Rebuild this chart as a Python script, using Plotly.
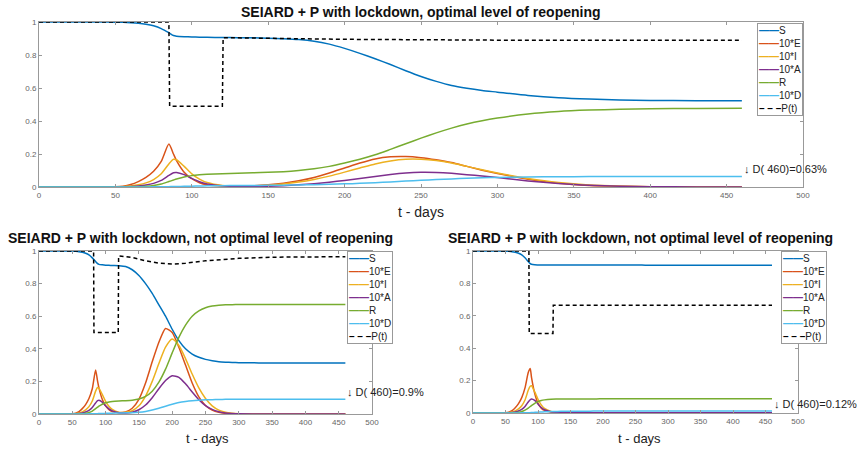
import plotly.graph_objects as go

# ---------------- data ----------------
T = [0, 40, 50, 55, 60, 65, 70, 75, 80, 85, 88, 90, 95, 100, 105, 110, 120, 130, 140, 150,
     160, 170, 180, 190, 200, 210, 220, 230, 240, 250, 260, 270, 280, 290, 300, 320, 340, 360,
     380, 400, 430, 460]

# Top panel: optimal level of reopening
S_top = [1, 1, 0.999, 0.998, 0.996, 0.993, 0.987, 0.977, 0.96, 0.935, 0.918, 0.914, 0.911, 0.909,
         0.908, 0.907, 0.906, 0.905, 0.904, 0.902, 0.899, 0.894, 0.884, 0.866, 0.84, 0.81, 0.777,
         0.742, 0.705, 0.67, 0.64, 0.615, 0.598, 0.585, 0.575, 0.555, 0.541, 0.533, 0.528, 0.525,
         0.523, 0.522]
E_top = [0, 0, 0.001, 0.005, 0.015, 0.033, 0.058, 0.095, 0.155, 0.26, 0.2, 0.16, 0.09, 0.05, 0.026,
         0.014, 0.006, 0.005, 0.007, 0.013, 0.023, 0.038, 0.058, 0.085, 0.115, 0.145, 0.17, 0.183,
         0.185, 0.178, 0.165, 0.148, 0.125, 0.102, 0.082, 0.047, 0.022, 0.009, 0.004, 0.0015,
         0.0005, 0]
I_top = [0, 0, 0, 0.002, 0.006, 0.013, 0.025, 0.045, 0.08, 0.14, 0.168, 0.165, 0.125, 0.08, 0.048,
         0.027, 0.009, 0.005, 0.006, 0.01, 0.018, 0.03, 0.046, 0.066, 0.09, 0.115, 0.14, 0.158,
         0.168, 0.168, 0.16, 0.145, 0.125, 0.104, 0.085, 0.052, 0.027, 0.012, 0.005, 0.002,
         0.0006, 0]
A_top = [0, 0, 0, 0.001, 0.003, 0.006, 0.012, 0.022, 0.04, 0.07, 0.086, 0.088, 0.075, 0.052, 0.032,
         0.019, 0.007, 0.003, 0.003, 0.005, 0.008, 0.013, 0.02, 0.029, 0.04, 0.052, 0.064, 0.076,
         0.085, 0.089, 0.088, 0.083, 0.075, 0.066, 0.057, 0.037, 0.021, 0.01, 0.005, 0.002,
         0.0007, 0.0002]
R_top = [0, 0, 0, 0, 0.001, 0.002, 0.004, 0.009, 0.018, 0.033, 0.042, 0.048, 0.06, 0.069, 0.074,
         0.077, 0.08, 0.083, 0.086, 0.089, 0.093, 0.1, 0.11, 0.125, 0.145, 0.168, 0.195, 0.228,
         0.262, 0.296, 0.328, 0.357, 0.382, 0.402, 0.418, 0.443, 0.458, 0.466, 0.471, 0.474,
         0.476, 0.477]
D_top = [0, 0, 0, 0, 0, 0, 0, 0.001, 0.001, 0.002, 0.003, 0.003, 0.004, 0.005, 0.006, 0.007, 0.008,
         0.009, 0.009, 0.01, 0.011, 0.012, 0.014, 0.016, 0.019, 0.022, 0.026, 0.031, 0.036, 0.041,
         0.045, 0.049, 0.053, 0.056, 0.058, 0.061, 0.062, 0.063, 0.063, 0.063, 0.063, 0.063]
Pt_top = [0, 85, 85.5, 120, 120.5, 200, 300, 460]
P_top = [1, 1, 0.49, 0.49, 0.905, 0.895, 0.89, 0.89]

# Bottom-left panel: not optimal (too high reopening)
S_bl = [1, 1, 0.999, 0.998, 0.996, 0.992, 0.986, 0.976, 0.958, 0.935, 0.922, 0.918, 0.915, 0.913,
        0.912, 0.911, 0.91, 0.905, 0.885, 0.85, 0.8, 0.74, 0.67, 0.6, 0.52, 0.45, 0.4, 0.368,
        0.348, 0.335, 0.327, 0.321, 0.318, 0.316, 0.315, 0.314, 0.313, 0.313, 0.313, 0.313,
        0.313, 0.313]
E_bl = [0, 0, 0.001, 0.005, 0.015, 0.033, 0.058, 0.095, 0.155, 0.27, 0.2, 0.16, 0.09, 0.05, 0.027,
        0.015, 0.008, 0.013, 0.035, 0.09, 0.19, 0.32, 0.44, 0.525, 0.5, 0.41, 0.3, 0.19, 0.105,
        0.052, 0.024, 0.01, 0.004, 0.0015, 0.0005, 0, 0, 0, 0, 0, 0, 0]
I_bl = [0, 0, 0, 0.002, 0.006, 0.013, 0.025, 0.045, 0.08, 0.14, 0.162, 0.158, 0.12, 0.078, 0.047,
        0.028, 0.011, 0.01, 0.02, 0.05, 0.11, 0.2, 0.31, 0.41, 0.46, 0.42, 0.34, 0.245, 0.16,
        0.095, 0.05, 0.024, 0.011, 0.005, 0.002, 0.0005, 0, 0, 0, 0, 0, 0]
A_bl = [0, 0, 0, 0.001, 0.003, 0.006, 0.012, 0.022, 0.04, 0.068, 0.082, 0.085, 0.073, 0.05, 0.031,
        0.019, 0.008, 0.006, 0.011, 0.026, 0.055, 0.1, 0.155, 0.205, 0.235, 0.225, 0.185, 0.135,
        0.088, 0.052, 0.028, 0.014, 0.006, 0.003, 0.001, 0, 0, 0, 0, 0, 0, 0]
R_bl = [0, 0, 0, 0, 0.001, 0.002, 0.004, 0.009, 0.018, 0.033, 0.042, 0.048, 0.06, 0.069, 0.074,
        0.077, 0.08, 0.082, 0.085, 0.092, 0.108, 0.14, 0.195, 0.275, 0.375, 0.47, 0.545, 0.6,
        0.633, 0.652, 0.662, 0.667, 0.67, 0.671, 0.672, 0.672, 0.672, 0.672, 0.672, 0.672,
        0.672, 0.672]
D_bl = [0, 0, 0, 0, 0, 0, 0, 0.001, 0.001, 0.002, 0.002, 0.003, 0.003, 0.004, 0.005, 0.005, 0.006,
        0.007, 0.008, 0.011, 0.016, 0.024, 0.035, 0.048, 0.06, 0.07, 0.077, 0.082, 0.085, 0.087,
        0.088, 0.089, 0.09, 0.09, 0.09, 0.09, 0.09, 0.09, 0.09, 0.09, 0.09, 0.09]
Pt_bl = [0, 82, 82.5, 119, 119.5, 140, 160, 180, 200, 220, 250, 300, 350, 400, 460]
P_bl = [1, 1, 0.5, 0.5, 0.97, 0.96, 0.94, 0.925, 0.92, 0.925, 0.94, 0.955, 0.962, 0.965, 0.965]

# Bottom-right panel: not optimal (too low reopening)
S_br = [1, 1, 0.999, 0.998, 0.996, 0.992, 0.986, 0.976, 0.958, 0.935, 0.922, 0.918, 0.915, 0.914,
        0.913, 0.913, 0.913, 0.913, 0.913, 0.913, 0.913, 0.913, 0.913, 0.913, 0.913, 0.913,
        0.913, 0.913, 0.913, 0.913, 0.913, 0.912, 0.912, 0.912, 0.912, 0.912, 0.912, 0.912,
        0.912, 0.912, 0.912, 0.912]
E_br = [0, 0, 0.001, 0.005, 0.015, 0.033, 0.058, 0.095, 0.155, 0.25, 0.275, 0.22, 0.12, 0.06, 0.03,
        0.016, 0.006, 0.003, 0.002, 0.002, 0.002, 0.002, 0.002, 0.002, 0.002, 0.002, 0.002,
        0.002, 0.0015, 0.0015, 0.0015, 0.0015, 0.0015, 0.0015, 0.001, 0.001, 0.001, 0.001,
        0.001, 0.001, 0.001, 0.001]
I_br = [0, 0, 0, 0.002, 0.006, 0.013, 0.025, 0.045, 0.08, 0.14, 0.165, 0.168, 0.13, 0.085, 0.05,
        0.028, 0.01, 0.004, 0.002, 0.0015, 0.0015, 0.0015, 0.0015, 0.0015, 0.0015, 0.0015,
        0.0015, 0.0015, 0.001, 0.001, 0.001, 0.001, 0.001, 0.001, 0.001, 0.001, 0.001, 0.001,
        0.001, 0.001, 0.001, 0.001]
A_br = [0, 0, 0, 0.001, 0.003, 0.006, 0.012, 0.022, 0.04, 0.068, 0.082, 0.087, 0.078, 0.055, 0.034,
        0.02, 0.008, 0.004, 0.002, 0.001, 0.001, 0.001, 0.001, 0.001, 0.001, 0.001, 0.001, 0.001,
        0.001, 0.001, 0.001, 0.001, 0.001, 0.001, 0.001, 0.001, 0.001, 0.001, 0.001, 0.001,
        0.001, 0.001]
R_br = [0, 0, 0, 0, 0.001, 0.002, 0.004, 0.009, 0.018, 0.03, 0.04, 0.046, 0.06, 0.07, 0.077, 0.081,
        0.085, 0.086, 0.087, 0.087, 0.087, 0.087, 0.087, 0.087, 0.088, 0.088, 0.088, 0.088,
        0.088, 0.088, 0.088, 0.088, 0.088, 0.088, 0.088, 0.088, 0.088, 0.088, 0.088, 0.088,
        0.088, 0.088]
D_br = [0, 0, 0, 0, 0, 0, 0, 0.001, 0.001, 0.002, 0.002, 0.003, 0.004, 0.005, 0.006, 0.007, 0.009,
        0.01, 0.0105, 0.011, 0.011, 0.0115, 0.0115, 0.012, 0.012, 0.012, 0.012, 0.012, 0.012,
        0.012, 0.012, 0.012, 0.012, 0.012, 0.012, 0.012, 0.012, 0.012, 0.012, 0.012, 0.012,
        0.012]
Pt_br = [0, 86, 86.5, 123, 123.5, 460]
P_br = [1, 1, 0.49, 0.49, 0.665, 0.665]

NAMES = ["S", "10*E", "10*I", "10*A", "R", "10*D"]
P_NAME = "P(t)"
COLORS = ["#0072BD", "#D95319", "#EDB120", "#7E2F8E", "#77AC30", "#4DBEEE"]
TITLE_TOP = "SEIARD + P with lockdown, optimal level of reopening"
TITLE_BOT = "SEIARD + P with lockdown, not optimal level of reopening"
D_LABELS = ["\u2193 D( 460)=0.63%", "\u2193 D( 460)=0.9%", "\u2193 D( 460)=0.12%"]
X_TICKS = [0, 50, 100, 150, 200, 250, 300, 350, 400, 450, 500]
Y_TICKS = [0, 0.2, 0.4, 0.6, 0.8, 1]
Y_TICKTEXT = ["0", "0.2", "0.4", "0.6", "0.8", "1"]

panels = [
    dict(series=[S_top, E_top, I_top, A_top, R_top, D_top], pt=Pt_top, p=P_top),
    dict(series=[S_bl, E_bl, I_bl, A_bl, R_bl, D_bl], pt=Pt_bl, p=P_bl),
    dict(series=[S_br, E_br, I_br, A_br, R_br, D_br], pt=Pt_br, p=P_br),
]

W, H = 860, 453
def px(x):
    return x / W
def py(y):
    return 1 - y / H

# axes boxes in pixels: (left, right, top, bottom)
boxes = [(39, 803, 22, 187), (39, 372, 251, 414), (473, 798, 251, 413)]
# legend anchors: (x, y, xanchor)
legend_pos = [(803, 23, "right"), (347, 251, "left"), (781, 251, "left")]

fig = go.Figure()
axes_ids = ["", "2", "3"]
for k, pan in enumerate(panels):
    xa = "x" + axes_ids[k]
    ya = "y" + axes_ids[k]
    for name, col, vals in zip(NAMES, COLORS, pan["series"]):
        fig.add_trace(go.Scatter(x=T, y=vals, mode="lines", name=name, showlegend=False,
                                 line=dict(color=col, width=1.5, shape="spline", smoothing=0.6),
                                 xaxis=xa, yaxis=ya))
    fig.add_trace(go.Scatter(x=pan["pt"], y=pan["p"], mode="lines", name=P_NAME, showlegend=False,
                             line=dict(color="black", width=1.5, dash="4px,3px"),
                             xaxis=xa, yaxis=ya))

layout = dict(width=W, height=H, margin=dict(l=0, r=0, t=0, b=0),
              paper_bgcolor="white", plot_bgcolor="white", showlegend=False,
              font=dict(family="Liberation Sans, Arial, sans-serif", color="#222"))
axis_common = dict(showgrid=False, zeroline=False, showline=True, mirror="ticks",
                   linecolor="#999", linewidth=1, ticks="inside", ticklen=3, tickcolor="#999",
                   tickfont=dict(size=8, color="#666"), automargin=False)
for k, (l, r, t, b) in enumerate(boxes):
    xk = "xaxis" + axes_ids[k]
    yk = "yaxis" + axes_ids[k]
    layout[xk] = dict(axis_common, domain=[px(l), px(r)], range=[0, 500],
                      tickvals=X_TICKS, anchor="y" + axes_ids[k])
    layout[yk] = dict(axis_common, domain=[py(b), py(t)], range=[0, 1],
                      tickvals=Y_TICKS, ticktext=Y_TICKTEXT, anchor="x" + axes_ids[k])

annotations = []
# titles
for (cx, cy, title) in [(421, 12, TITLE_TOP), (200, 238, TITLE_BOT), (640, 238, TITLE_BOT)]:
    annotations.append(dict(text="<b>" + title + "</b>", x=px(cx), y=py(cy), xref="paper",
                            yref="paper", showarrow=False, font=dict(size=14, color="#111"),
                            xanchor="center", yanchor="middle"))
# axis titles
for cx, cy, fs in [(421, 212, 14), (207, 438, 13), (639, 438, 13)]:
    annotations.append(dict(text="t - days", x=px(cx), y=py(cy), xref="paper", yref="paper",
                            showarrow=False, font=dict(size=fs, color="#222"),
                            xanchor="center", yanchor="middle"))
# D(460) labels
for k, pan in enumerate(panels):
    dfin = pan["series"][5][-1]
    annotations.append(dict(text=D_LABELS[k], x=460, y=dfin + 0.045,
                            xref="x" + axes_ids[k], yref="y" + axes_ids[k],
                            showarrow=False, font=dict(size=11, color="#222"),
                            xanchor="left", yanchor="middle"))
# legends (MATLAB-style compact boxes)
legend_lines = ["<span style='color:%s'><b>\u2014\u2014</b></span>%s" % (c, n)
                for c, n in zip(COLORS, NAMES)]
legend_lines.append("<span style='color:black'><b>\u2013 \u2013 \u2013</b></span>" + P_NAME)
legend_text = "<br>".join(legend_lines)
for (lx, ly, anc) in legend_pos:
    annotations.append(dict(text=legend_text, x=px(lx), y=py(ly), xref="paper", yref="paper",
                            showarrow=False, align="left", xanchor=anc, yanchor="top",
                            font=dict(size=10, color="#222"), bgcolor="white",
                            bordercolor="#999", borderwidth=1, borderpad=1))
layout["annotations"] = annotations

fig.update_layout(**layout)
fig.write_html("out.html", config={"displayModeBar": False},
               post_script="document.body.style.margin='0';document.body.style.overflow='hidden';")
